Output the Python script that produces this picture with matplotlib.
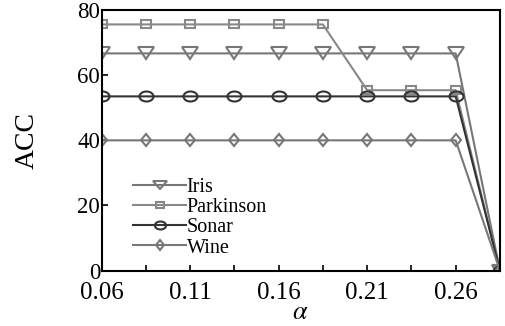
import matplotlib
matplotlib.use("Agg")
import matplotlib.pyplot as plt
from matplotlib.markers import MarkerStyle
from matplotlib.transforms import Affine2D

plt.rcParams["font.family"] = ["Liberation Serif", "DejaVu Serif"]
plt.rcParams["mathtext.fontset"] = "stix"

# data
alpha = [0.06, 0.085, 0.11, 0.135, 0.16, 0.185, 0.21, 0.235, 0.26, 0.285]
iris = [66.7, 66.7, 66.7, 66.7, 66.7, 66.7, 66.7, 66.7, 66.7, 0]
parkinson = [75.6, 75.6, 75.6, 75.6, 75.6, 75.6, 55.4, 55.4, 55.4, 0]
sonar = [53.5, 53.5, 53.5, 53.5, 53.5, 53.5, 53.5, 53.5, 53.5, 0]
wine = [40, 40, 40, 40, 40, 40, 40, 40, 40, 0]

tick_pos = [0.06, 0.085, 0.11, 0.135, 0.16, 0.185, 0.21, 0.235, 0.26]
tick_labels = ["0.06", "", "0.11", "", "0.16", "", "0.21", "", "0.26"]


def wide(m, sx):
    # the original markers look stretched sideways
    return MarkerStyle(m, fillstyle="none", transform=Affine2D().scale(sx, 1))


fig = plt.figure(figsize=(5.05, 3.26), dpi=100)
ax = fig.add_axes([0.201, 0.170, 0.789, 0.799])

ax.plot(alpha, iris, color="#777777", lw=1.5, marker=wide("v", 1.5), ms=8,
        mew=1.5, label="Iris")
ax.plot(alpha, parkinson, color="#888888", lw=1.5, marker=wide("s", 1.15), ms=6,
        mew=1.5, label="Parkinson")
ax.plot(alpha, sonar, color="#333333", lw=1.5, marker=wide("o", 1.4), ms=7.2,
        mew=1.5, label="Sonar")
ax.plot(alpha, wine, color="#777777", lw=1.5, marker=wide("D", 0.8), ms=6.6,
        mew=1.5, label="Wine")

ax.set_xlim(0.06, 0.285)
ax.set_ylim(0, 80)
ax.set_xticks(tick_pos)
ax.set_xticklabels(tick_labels)
ax.set_yticks([0, 20, 40, 60, 80])
ax.tick_params(direction="in", length=4, width=1.2)
ax.tick_params(axis="x", labelsize=18, pad=8)
ax.tick_params(axis="y", labelsize=16.5, pad=1)
for s in ax.spines.values():
    s.set_linewidth(1.5)

ax.set_xlabel(r"$\alpha$", fontsize=19, labelpad=-1)
ax.set_ylabel("ACC", fontsize=20, labelpad=27)

ax.legend(loc="upper left", bbox_to_anchor=(0.08, 0.355), frameon=False,
          fontsize=14.5, handlelength=2.6, markerscale=0.8, labelspacing=0.05,
          handletextpad=0.05, borderpad=0, borderaxespad=0)

fig.savefig("out.png", dpi=100)
